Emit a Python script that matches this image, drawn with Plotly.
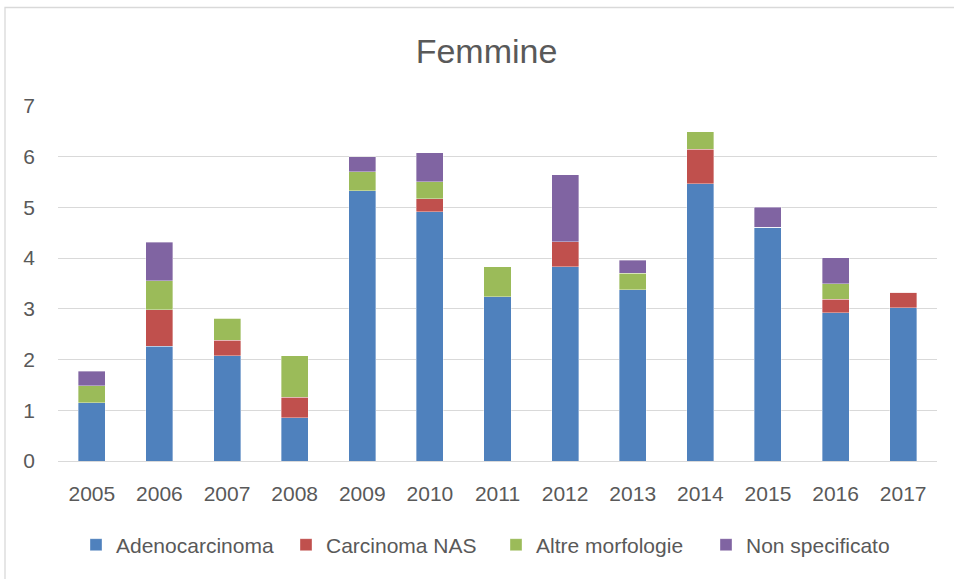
import plotly.graph_objects as go

years = ["2005", "2006", "2007", "2008", "2009", "2010", "2011", "2012", "2013", "2014", "2015", "2016", "2017"]
adenocarcinoma = [1.15, 2.26, 2.08, 0.85, 5.33, 4.91, 3.24, 3.83, 3.38, 5.47, 4.61, 2.92, 3.02]
carcinoma_nas = [0, 0.72, 0.30, 0.41, 0, 0.26, 0, 0.49, 0, 0.68, 0, 0.27, 0.31]
altre_morfologie = [0.33, 0.57, 0.43, 0.82, 0.37, 0.34, 0.59, 0, 0.32, 0.34, 0, 0.31, 0]
non_specificato = [0.29, 0.76, 0, 0, 0.30, 0.57, 0, 1.32, 0.26, 0, 0.39, 0.51, 0]
y_ticks = [0, 1, 2, 3, 4, 5, 6, 7]

series = [
    ("Adenocarcinoma", adenocarcinoma, "#4F81BD"),
    ("Carcinoma NAS", carcinoma_nas, "#C0504D"),
    ("Altre morfologie", altre_morfologie, "#9BBB59"),
    ("Non specificato", non_specificato, "#8064A2"),
]

font_family = "Liberation Sans, Arial, sans-serif"
text_color = "#595959"

fig = go.Figure()
for name, vals, color in series:
    fig.add_trace(go.Bar(
        x=years, y=vals, name=name,
        marker=dict(color=color, line=dict(color="rgba(255,255,255,0.6)", width=0.6)),
        hoverinfo="x+y+name",
    ))

fig.update_layout(
    barmode="stack",
    bargap=0.6,
    width=954, height=579,
    margin=dict(l=58, r=17, t=106, b=118),
    paper_bgcolor="white",
    plot_bgcolor="white",
    font=dict(family=font_family, size=21, color=text_color),
    title=dict(text="Femmine", x=486.5 / 954, xanchor="center", xref="container",
               y=1 - 51 / 579, yanchor="middle", yref="container",
               font=dict(size=34, color=text_color, family=font_family)),
    xaxis=dict(showgrid=False, showline=False, ticks="", tickfont=dict(size=21),
               ticklabelstandoff=18),
    yaxis=dict(range=[0, 7], tickvals=y_ticks, showgrid=True, gridcolor="#D9D9D9",
               gridwidth=1.3, zeroline=True, zerolinecolor="#D9D9D9", zerolinewidth=1.3,
               showline=False, ticks="", tickfont=dict(size=21), ticklabelstandoff=22),
    legend=dict(orientation="h", x=0.5 + 19 / 954, xanchor="center", xref="container",
                y=1 - 545 / 579, yanchor="middle", yref="container",
                font=dict(size=21), traceorder="normal", itemwidth=30,
                entrywidth=165, entrywidthmode="pixels"),
    shapes=[dict(type="rect", xref="paper", yref="paper",
                 x0=(5 - 58) / 879, x1=1.2, y0=-0.5, y1=(461 - 7.5) / 355,
                 line=dict(color="#D9D9D9", width=1.3), layer="below")],
)

fig.write_html("out.html", config={"displayModeBar": False},
               post_script="document.body.style.margin='0';document.body.style.overflow='hidden';")
